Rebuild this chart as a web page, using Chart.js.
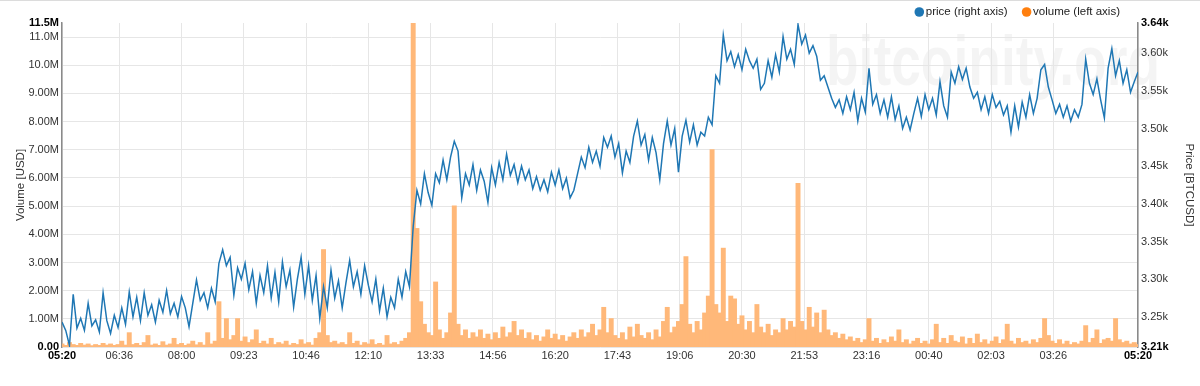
<!DOCTYPE html>
<html><head><meta charset="utf-8">
<script src="https://cdn.jsdelivr.net/npm/chart.js@4.4.0/dist/chart.umd.min.js"></script>
<style>html,body{margin:0;padding:0;background:#fff;overflow:hidden}#wrap{position:relative;width:1200px;height:386px}</style>
</head><body><div id="wrap"><canvas id="c"></canvas></div>
<script>
// ---- data ----
const sampleStepMinutes = 5; // one sample every 5 minutes from 05:20
const priceUSD = [
 3243,3232,3212,3280,3235,3248,3232,3268,3238,3246,
 3230,3282,3245,3228,3252,3236,3262,3240,3283,3250,
 3276,3245,3282,3252,3266,3243,3272,3256,3285,3254,
 3268,3250,3277,3262,3237,3268,3299,3272,3282,3262,
 3288,3270,3321,3339,3318,3329,3279,3315,3300,3321,
 3286,3310,3268,3305,3282,3318,3275,3309,3270,3323,
 3290,3312,3263,3300,3329,3280,3318,3272,3305,3248,
 3290,3262,3312,3275,3298,3262,3295,3325,3290,3310,
 3280,3318,3292,3270,3300,3258,3288,3250,3276,3262,
 3300,3276,3310,3290,3370,3418,3400,3440,3415,3398,
 3440,3428,3458,3432,3462,3483,3470,3408,3440,3425,
 3452,3418,3445,3430,3402,3448,3425,3455,3432,3466,
 3438,3452,3428,3450,3432,3445,3420,3436,3418,3432,
 3416,3442,3425,3445,3420,3434,3408,3418,3440,3462,
 3448,3475,3455,3470,3450,3488,3475,3490,3462,3480,
 3441,3470,3455,3490,3510,3478,3492,3458,3488,3468,
 3432,3480,3510,3478,3500,3442,3490,3511,3482,3505,
 3478,3495,3490,3515,3505,3570,3560,3624,3590,3602,
 3582,3598,3578,3605,3590,3580,3592,3552,3560,3590,
 3568,3598,3575,3622,3592,3605,3585,3638,3612,3624,
 3600,3610,3596,3564,3570,3555,3540,3528,3538,3520,
 3542,3525,3548,3510,3540,3522,3580,3532,3545,3520,
 3538,3515,3542,3512,3530,3500,3515,3498,3520,3540,
 3516,3545,3525,3540,3518,3562,3530,3515,3575,3560,
 3582,3565,3580,3555,3540,3548,3525,3542,3520,3545,
 3528,3536,3518,3530,3495,3530,3502,3535,3515,3545,
 3520,3540,3578,3585,3555,3538,3520,3532,3515,3530,
 3510,3525,3515,3532,3592,3560,3545,3566,3538,3514,
 3580,3606,3570,3590,3560,3578,3548,3562,3575
];
const volumeMUSD = [
 0.1,0.05,0.15,0.08,0.05,0.12,0.06,0.1,0.04,0.08,
 0.05,0.12,0.06,0.1,0.05,0.08,0.2,0.06,0.5,0.08,
 0.12,0.05,0.15,0.4,0.06,0.1,0.05,0.18,0.06,0.1,
 0.3,0.08,0.12,0.05,0.1,0.2,0.07,0.15,0.06,0.5,
 0.1,0.2,1.6,0.3,1.0,0.25,0.4,1.0,0.2,0.35,
 0.15,0.25,0.6,0.12,0.2,0.1,0.3,0.08,0.15,0.1,
 0.2,0.06,0.12,0.08,0.25,0.1,0.15,0.06,0.3,0.5,
 3.45,0.4,0.15,0.2,0.1,0.15,0.08,0.5,0.12,0.2,
 0.06,0.15,0.1,0.25,0.08,0.12,0.06,0.4,0.1,0.15,
 0.08,0.2,0.3,0.5,11.5,4.2,1.6,0.8,0.5,0.4,
 2.3,0.6,0.3,0.5,1.2,5.0,0.8,0.4,0.6,0.3,
 0.5,0.35,0.6,0.3,0.45,0.25,0.5,0.3,0.7,0.35,
 0.5,0.9,0.4,0.6,0.3,0.5,0.25,0.4,0.2,0.35,
 0.6,0.3,0.45,0.25,0.4,0.2,0.35,0.5,0.3,0.6,
 0.35,0.5,0.8,0.4,0.6,1.4,0.5,1.0,0.4,0.3,
 0.5,0.25,0.7,0.35,0.8,0.4,0.3,0.5,0.25,0.6,
 0.35,0.9,1.4,0.5,0.7,0.9,1.5,3.2,0.8,0.5,
 0.9,0.6,1.2,1.8,7.0,1.5,1.2,3.5,0.9,1.8,
 1.7,0.8,1.1,0.6,0.9,0.5,1.5,0.7,0.5,0.8,
 0.4,0.6,0.5,1.0,0.6,0.9,0.7,5.8,0.9,0.6,
 1.4,0.7,1.2,0.5,1.3,0.6,0.4,0.5,0.3,0.45,
 0.25,0.35,0.2,0.3,0.15,0.25,1.0,0.2,0.3,0.12,
 0.25,0.15,0.35,0.2,0.6,0.15,0.25,0.1,0.2,0.3,
 0.12,0.2,0.1,0.25,0.8,0.15,0.3,0.12,0.4,0.2,
 0.15,0.35,0.1,0.3,0.12,0.45,0.15,0.25,0.1,0.2,
 0.35,0.12,0.25,0.8,0.2,0.1,0.3,0.15,0.2,0.1,
 0.25,0.15,0.3,1.0,0.4,0.2,0.12,0.25,0.1,0.2,
 0.08,0.15,0.1,0.2,0.75,0.15,0.3,0.6,0.12,0.25,
 0.3,0.2,1.0,0.25,0.15,0.2,0.1,0.15,0.08
];
const xTickMinutes = [0,76.67,160,243.33,326.67,410,493.33,576.67,660,743.33,826.67,910,993.33,1076.67,1160,1243.33,1326.67,1440];
const xTickLabels = ['05:20','06:36','08:00','09:23','10:46','12:10','13:33','14:56','16:20','17:43','19:06','20:30','21:53','23:16','00:40','02:03','03:26','05:20'];
const volTickValues = [0,1,2,3,4,5,6,7,8,9,10,11,11.5];
const volTickLabels = ['0.00','1.00M','2.00M','3.00M','4.00M','5.00M','6.00M','7.00M','8.00M','9.00M','10.0M','11.0M','11.5M'];
const priceTickValues = [3210,3250,3300,3350,3400,3450,3500,3550,3600,3640];
const priceTickLabels = ['3.21k','3.25k','3.30k','3.35k','3.40k','3.45k','3.50k','3.55k','3.60k','3.64k'];
const seriesLabels = ['price (right axis)','volume (left axis)'];
const seriesColors = ['#1f77b4','#ff7f0e'];
const axisTitles = ['Volume [USD]','Price [BTCUSD]'];
const watermarkText = 'bitcoinity.org';

// ---- helpers ----
const FONT = "'Liberation Sans Narrow','Arial Narrow','Liberation Sans',Arial,sans-serif";
Chart.defaults.font.family = FONT;
Chart.defaults.color = '#333';
const isEnd = (arr, v) => v === arr[0] || v === arr[arr.length - 1];
const tickFont = arr => ctx => ({ size: 11, family: FONT, weight: (ctx.tick && isEnd(arr, ctx.tick.value)) ? 'bold' : 'normal' });
const tickColor = arr => ctx => (ctx.tick && isEnd(arr, ctx.tick.value)) ? '#000' : '#333';
const setTicks = values => scale => { scale.ticks = values.map(v => ({ value: v })); };
const labelFrom = (values, labels) => value => { const i = values.indexOf(value); return i >= 0 ? labels[i] : ''; };
const toPoints = arr => arr.map((v, i) => ({ x: i * sampleStepMinutes, y: v }));

const watermark = {
  id: 'watermark',
  beforeDraw(chart) {
    const c = chart.ctx;
    c.save();
    c.strokeStyle = '#dcdcdc'; c.lineWidth = 1;
    c.beginPath(); c.moveTo(0, 0.5); c.lineTo(chart.width, 0.5); c.stroke();
    c.fillStyle = 'rgba(0,0,0,0.045)';
    c.font = "bold 70px 'Liberation Sans', Arial, sans-serif";
    c.textBaseline = 'alphabetic';
    c.textAlign = 'left';
    c.fillText(watermarkText, 826, 85, 334);
    c.restore();
  }
};
const customLegend = {
  id: 'customLegend',
  afterDraw(chart) {
    const c = chart.ctx;
    c.save();
    c.font = "11.5px " + FONT;
    c.textBaseline = 'middle';
    c.textAlign = 'left';
    let right = 1120;
    const ds = chart.data.datasets;
    for (let i = ds.length - 1; i >= 0; i--) {
      const w = c.measureText(ds[i].label).width;
      const tx = right - w;
      c.fillStyle = '#222';
      c.fillText(ds[i].label, tx, 12);
      c.fillStyle = ds[i].legendColor;
      c.beginPath(); c.arc(tx - 6.5, 12, 4.8, 0, Math.PI * 2); c.fill();
      right = tx - 6.5 - 19;
    }
    c.restore();
  }
};

new Chart(document.getElementById('c'), {
  type: 'line',
  data: {
    datasets: [
      { type: 'line', label: seriesLabels[0], legendColor: seriesColors[0], data: toPoints(priceUSD), yAxisID: 'y1',
        borderColor: seriesColors[0], borderWidth: 1.5, pointRadius: 0, fill: false, tension: 0, order: 0 },
      { type: 'bar', label: seriesLabels[1], legendColor: seriesColors[1], data: toPoints(volumeMUSD), yAxisID: 'y',
        backgroundColor: '#ffb879', borderWidth: 0, inflateAmount: 0.6,
        barPercentage: 1, categoryPercentage: 1, order: 1 }
    ]
  },
  options: {
    responsive: true, maintainAspectRatio: false, animation: false,
    layout: { padding: { top: 23, left: 10, right: 0, bottom: 0 } },
    plugins: { legend: { display: false }, tooltip: { enabled: false } },
    scales: {
      x: {
        type: 'linear', min: 0, max: 1440, offset: false,
        afterBuildTicks: setTicks(xTickMinutes),
        afterFit: s => { s.height = 39; },
        ticks: { autoSkip: false, maxRotation: 0, padding: 2, callback: labelFrom(xTickMinutes, xTickLabels),
                 font: tickFont(xTickMinutes), color: tickColor(xTickMinutes) },
        grid: { color: '#e6e6e6', drawTicks: false, offset: false },
        border: { display: false }
      },
      y: {
        position: 'left', min: 0, max: 11.5,
        afterBuildTicks: setTicks(volTickValues),
        afterFit: s => { s.width = 52; },
        ticks: { autoSkip: false, padding: 3, callback: labelFrom(volTickValues, volTickLabels),
                 font: tickFont(volTickValues), color: tickColor(volTickValues) },
        grid: { drawTicks: false, color: ctx => (ctx.tick && ctx.tick.value === 11.5) ? 'rgba(0,0,0,0)' : '#e6e6e6' },
        border: { display: true, color: '#8a8a8a', width: 1.5 },
        title: { display: true, text: axisTitles[0], color: '#333', font: { size: 11.5, family: FONT }, padding: { top: 3.6, bottom: 0 } }
      },
      y1: {
        position: 'right', min: 3210, max: 3640,
        afterBuildTicks: setTicks(priceTickValues),
        afterFit: s => { s.width = 62; },
        ticks: { autoSkip: false, padding: 3, callback: labelFrom(priceTickValues, priceTickLabels),
                 font: tickFont(priceTickValues), color: tickColor(priceTickValues) },
        grid: { drawOnChartArea: false, drawTicks: false },
        border: { display: true, color: '#8a8a8a', width: 1.5 },
        title: { display: true, text: axisTitles[1], color: '#333', font: { size: 11.5, family: FONT }, padding: { top: 4.1, bottom: 0 } }
      }
    }
  },
  plugins: [watermark, customLegend]
});
</script></body></html>
